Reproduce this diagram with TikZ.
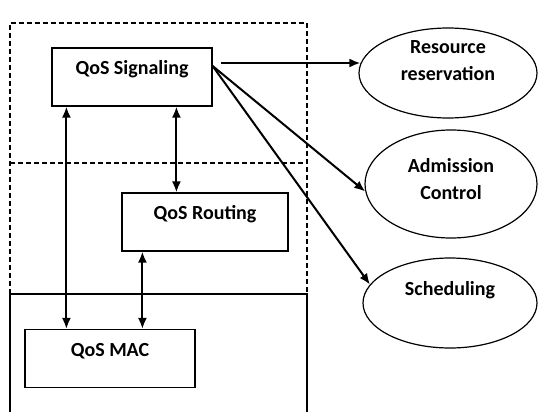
\documentclass[tikz,border=0pt]{standalone}
\usepackage{fontspec}
\setmainfont{Carlito}
\usetikzlibrary{shapes.geometric,arrows.meta}
\tikzset{
  blk/.style={draw, line width=0.6pt, rectangle, minimum height=29pt, text height=7pt, text depth=9.5pt},
  oval/.style={draw, line width=0.6pt, ellipse, inner sep=0pt},
  lbl/.style={align=center, inner sep=0pt},
  arr/.style={->, line width=1pt},
  dbl/.style={<->, line width=1pt},
  layer/.style={line width=0.6pt, dash pattern=on 2.5pt off 1.5pt}
}
\begin{document}
\begin{tikzpicture}[x=0.5pt, y=-0.5pt, >={Latex[length=5.5pt,width=4.5pt]},
    font=\bfseries\fontsize{10}{13.5}\selectfont]
  \useasboundingbox (0,0) rectangle (540,412);
  % layers
  \draw[layer] (10,294) -- (10,23) -- (307,23) -- (307,294);
  \draw[layer] (10,163) -- (307,163);
  \draw[line width=0.6pt] (10,412) -- (10,294) -- (307,294) -- (307,412);
  % blocks
  \node[blk, minimum width=80pt] (sig) at (132,77) {QoS Signaling};
  \node[blk, minimum width=83pt] (rout) at (205,222) {QoS Routing};
  \node[blk, minimum width=85pt] (mac) at (110,358.5) {QoS MAC};
  % functions
  \node[oval, minimum width=89pt, minimum height=45pt] (res) at (448,73) {};
  \node[oval, minimum width=86pt, minimum height=54pt] (adm) at (451,184) {};
  \node[oval, minimum width=87pt, minimum height=45pt] (sch) at (450,303) {};
  \node[lbl] (resT) at ([yshift=6.25pt]res) {Resource\\reservation};
  \node[lbl] (admT) at ([yshift=2.5pt]adm) {Admission\\Control};
  \node[lbl] (schT) at ([yshift=6.5pt]sch) {Scheduling};
  % links
  \draw[dbl] ([xshift=7.5pt]sig.south west) coordinate (a) -- (a |- mac.north);
  \draw[dbl] ([xshift=27.5pt]rout.north west) coordinate (b) -- (b |- sig.south);
  \draw[dbl] ([xshift=10.5pt]rout.south west) coordinate (c) -- (c |- mac.north);
  \coordinate (h) at ([xshift=4pt,yshift=7pt]sig.east);
  \coordinate (fan) at ([yshift=5.5pt]sig.east);
  \draw[arr] (h) -- ([xshift=1pt]h -| res.west);
  \draw[arr] (fan) -- (adm.185);
  \draw[arr] (fan) -- (sch.167);
\end{tikzpicture}
\end{document}
